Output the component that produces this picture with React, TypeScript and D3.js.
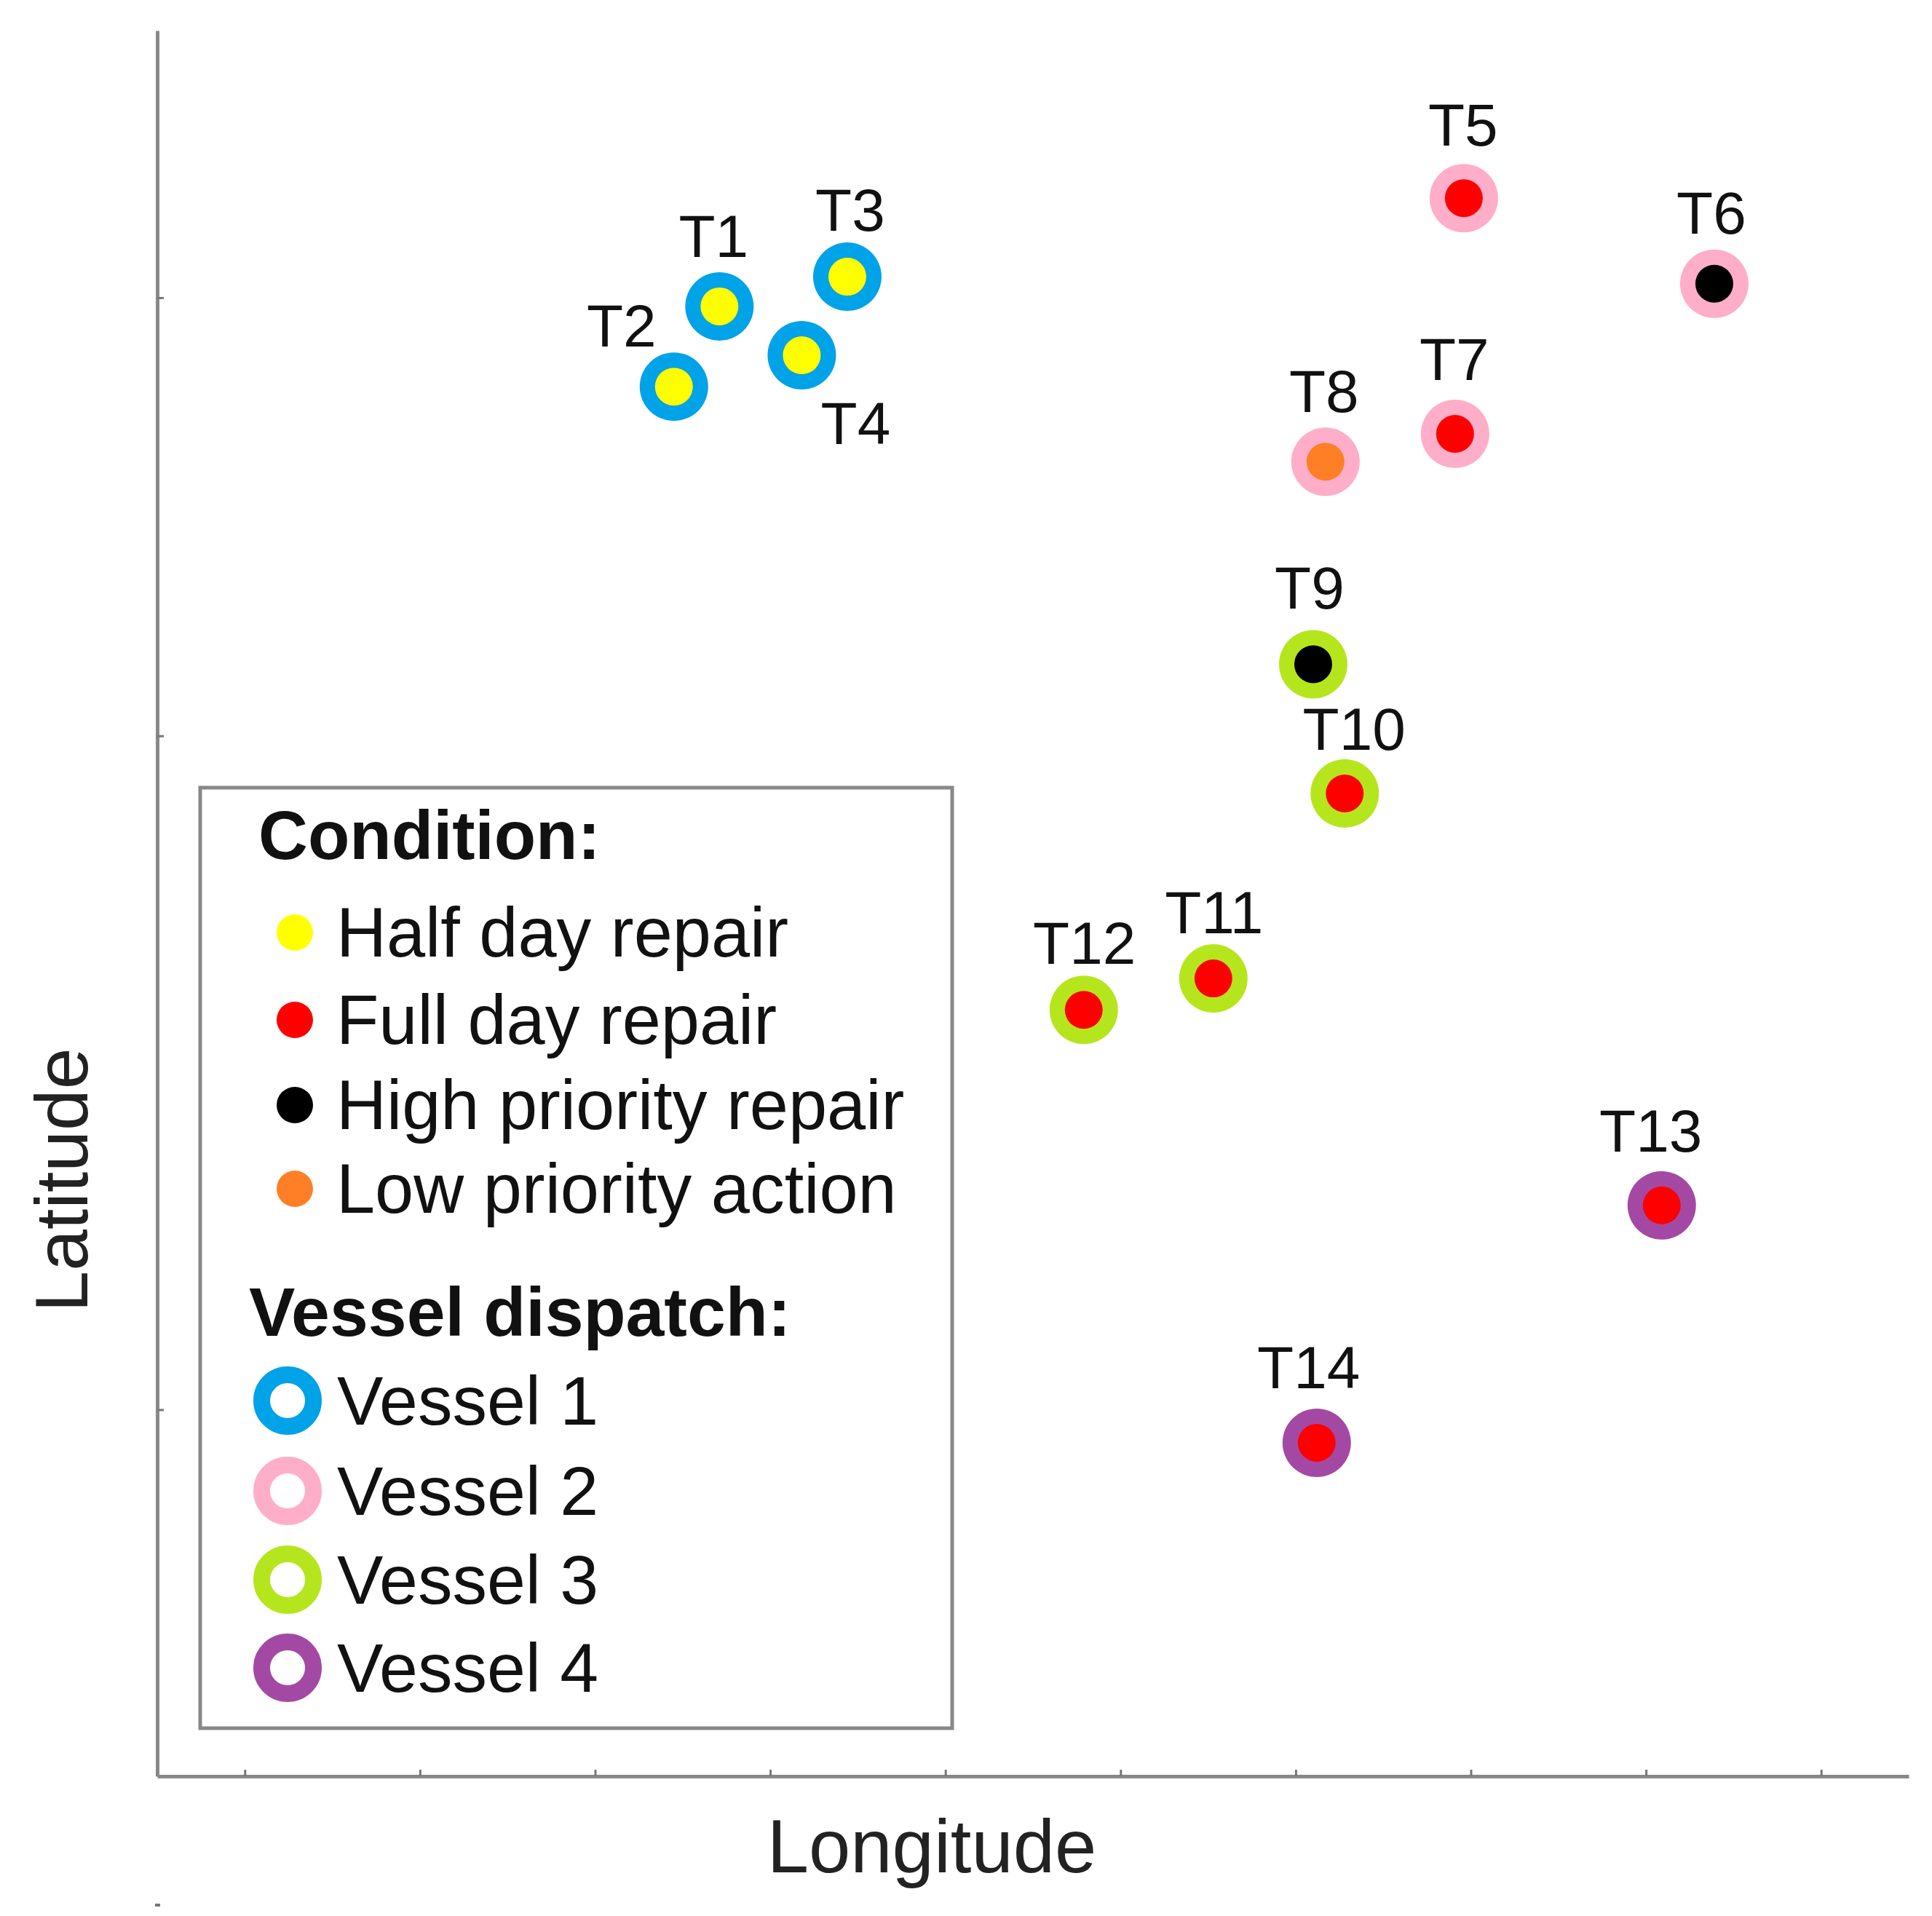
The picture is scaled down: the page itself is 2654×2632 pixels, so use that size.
import React, { useEffect, useRef } from "react";
import * as d3 from "d3";

// ---- data ----
const turbines = ["T1", "T2", "T3", "T4", "T5", "T6", "T7", "T8", "T9", "T10", "T11", "T12", "T13", "T14"];
const longitudes = [3.21, 2.95, 3.94, 3.68, 7.46, 8.89, 7.41, 6.67, 6.6, 6.78, 6.03, 5.29, 8.59, 6.62];
const latitudes = [8.42, 7.96, 8.59, 8.14, 9.04, 8.55, 7.69, 7.53, 6.37, 5.63, 4.57, 4.39, 3.27, 1.91];
const conditionOf = ["half", "half", "half", "half", "full", "high", "full", "low", "high", "full", "full", "full", "full", "full"];
const vesselOf = [1, 1, 1, 1, 2, 2, 2, 2, 3, 3, 3, 3, 4, 4];

const conditionKeys = ["half", "full", "high", "low"];
const conditionLabels = ["Half day repair", "Full day repair", "High priority repair", "Low priority action"];
const vesselKeys = [1, 2, 3, 4];
const vesselLabels = ["Vessel 1", "Vessel 2", "Vessel 3", "Vessel 4"];

const xTicks = [0.5, 1.5, 2.5, 3.5, 4.5, 5.5, 6.5, 7.5, 8.5, 9.5];
const yTicks = [2.1, 5.96, 8.47];

// label placement relative to marker (px)
const labelDx = [-8, -72, 4, 74, -1, -4, -1, -2, -5, 13, 1, 1, -15, -11];
const labelDy = [-68, -55, -63, 122, -72, -69, -74, -68, -76, -60, -62, -63, -74, -75];

// ---- styles ----
const conditionColor = d3.scaleOrdinal<string, string>().domain(conditionKeys).range(["#ffff00", "#ff0000", "#000000", "#ff7f27"]);
const vesselColor = d3.scaleOrdinal<number, string>().domain(vesselKeys).range(["#00a2e8", "#ffaec9", "#b5e61d", "#a349a4"]);

const W = 2654;
const H = 2632;
const X0 = 216, X1 = 2622, Y0 = 2440, Y1 = 42;
const FONT = "Liberation Sans, Arial, Helvetica, sans-serif";
const AXIS_COLOR = "#888888";

export default function App() {
  const xAxisRef = useRef<SVGGElement>(null);
  const yAxisRef = useRef<SVGGElement>(null);

  const x = d3.scaleLinear().domain([0, 10]).range([X0, X1]);
  const y = d3.scaleLinear().domain([0, 10]).range([Y0, Y1]);

  useEffect(() => {
    if (xAxisRef.current) {
      const g = d3.select(xAxisRef.current);
      g.call(d3.axisBottom(x).tickValues(xTicks).tickSizeInner(-9).tickSizeOuter(0).tickFormat(() => ""));
      g.select(".domain").attr("stroke", AXIS_COLOR).attr("stroke-width", 5);
      g.selectAll(".tick line").attr("stroke", "#777").attr("stroke-width", 3);
    }
    if (yAxisRef.current) {
      const g = d3.select(yAxisRef.current);
      g.call(d3.axisLeft(y).tickValues(yTicks).tickSizeInner(-9).tickSizeOuter(0).tickFormat(() => ""));
      g.select(".domain").attr("stroke", AXIS_COLOR).attr("stroke-width", 5);
      g.selectAll(".tick line").attr("stroke", "#777").attr("stroke-width", 3);
    }
  });

  const legendCondY = [1314, 1434, 1551, 1666];
  const legendVesY = [1957, 2081, 2203, 2324];

  return (
    <svg
      width={W}
      height={H}
      viewBox={`0 0 ${W} ${H}`}
      style={{ position: "absolute", left: 0, top: 0, background: "#fff", fontFamily: FONT }}
    >
      <rect x={0} y={0} width={W} height={H} fill="#ffffff" />
      <g ref={yAxisRef} transform={`translate(${X0},0)`} />
      <g ref={xAxisRef} transform={`translate(0,${Y0})`} />

      {/* stray dot below axis */}
      <rect x={213} y={2615} width={7} height={4} fill="#777" />

      {/* axis titles */}
      <text x={1280} y={2572} textAnchor="middle" fontSize={103} fill="#222">
        Longitude
      </text>
      <text
        transform={`translate(120,1621) rotate(-90)`}
        textAnchor="middle"
        fontSize={102}
        fill="#222"
      >
        Latitude
      </text>

      {/* markers */}
      {turbines.map((t, i) => (
        <g key={t} transform={`translate(${x(longitudes[i])},${y(latitudes[i])})`}>
          <circle r={47} fill={vesselColor(vesselOf[i])} />
          <circle r={26} fill={conditionColor(conditionOf[i])} />
          <text x={labelDx[i]} y={labelDy[i]} textAnchor="middle" fontSize={82} fill="#111">
            {t}
          </text>
        </g>
      ))}

      {/* legend */}
      <rect x={275} y={1082} width={1033} height={1292} fill="#fff" stroke={AXIS_COLOR} strokeWidth={5} />
      <text x={355} y={1180} fontSize={94} fontWeight="bold" fill="#111">
        Condition:
      </text>
      {conditionKeys.map((k, i) => (
        <g key={k}>
          <circle cx={405} cy={legendCondY[i] - 33} r={25} fill={conditionColor(k)} />
          <text x={462} y={legendCondY[i]} fontSize={95.5} fill="#111">
            {conditionLabels[i]}
          </text>
        </g>
      ))}
      <text x={342} y={1835} fontSize={95} fontWeight="bold" fill="#111">
        Vessel dispatch:
      </text>
      {vesselKeys.map((k, i) => (
        <g key={k}>
          <circle cx={395} cy={legendVesY[i] - 33} r={35.5} fill="none" stroke={vesselColor(k)} strokeWidth={23} />
          <text x={463} y={legendVesY[i]} fontSize={95} fill="#111">
            {vesselLabels[i]}
          </text>
        </g>
      ))}
    </svg>
  );
}
